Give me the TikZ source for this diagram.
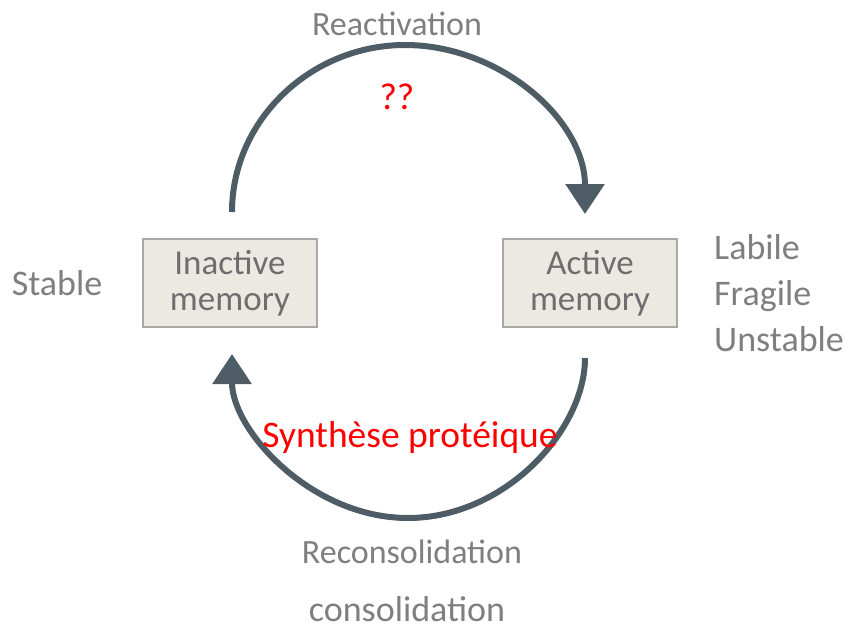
\documentclass[tikz,border=0pt]{standalone}
\usepackage{fontspec}
\setmainfont{Carlito}
\usetikzlibrary{arrows.meta}
\definecolor{arrowc}{HTML}{4E5C65}
\definecolor{boxfill}{HTML}{ECE9E3}
\definecolor{boxline}{HTML}{A9A9A7}
\definecolor{labgray}{HTML}{7F7F7F}
\definecolor{boxtext}{HTML}{6E6E6E}
\tikzset{
  membox/.style={draw=boxline, line width=2.5pt, fill=boxfill, minimum width=174pt, minimum height=88pt, align=center, text=boxtext, font=\fontsize{35}{36}\selectfont, inner sep=1pt},
  cyclearrow/.style={draw=arrowc, line width=6pt, -{Triangle[length=30pt,width=38pt]}},
  sidelabel/.style={text=labgray, font=\fontsize{36}{46}\selectfont, align=left, inner sep=0pt},
  redlabel/.style={text=red, font=\fontsize{37.5}{40}\selectfont},
  graylabel/.style={text=labgray, font=\fontsize{34}{36}\selectfont}
}
\begin{document}
\begin{tikzpicture}[x=1pt,y=-1pt]
\useasboundingbox (0,0) rectangle (846,629);
\node[membox] (inact) at (230,283) {Inactive\\memory};
\node[membox] (act) at (590,283) {Active\\memory};
\coordinate (ts) at (232,212);
\coordinate (te) at (585,214);
\coordinate (bs) at (585,358);
\coordinate (be) at (232,354);
\draw[cyclearrow] (ts) .. controls (232,120) and (311,45) .. (405,45)
  .. controls (500,45) and (585,120) .. (te);
\draw[cyclearrow] (bs) .. controls (585,430) and (505,518) .. (408,518)
  .. controls (311,518) and (232,430) .. (be);
\node[graylabel] (react) at (397,24) {Reactivation};
\node[redlabel] (qq) at (397,97) {??};
\node[sidelabel] (stable) at (57,283) {Stable};
\node[sidelabel, anchor=west] (lab) at (714,293) {Labile\\Fragile\\Unstable};
\node[redlabel] (synth) at (410,437) {Synthèse protéique};
\node[graylabel] (recons) at (412,552) {Reconsolidation};
\node[sidelabel] (cons) at (407,609) {consolidation};
\end{tikzpicture}
\end{document}
